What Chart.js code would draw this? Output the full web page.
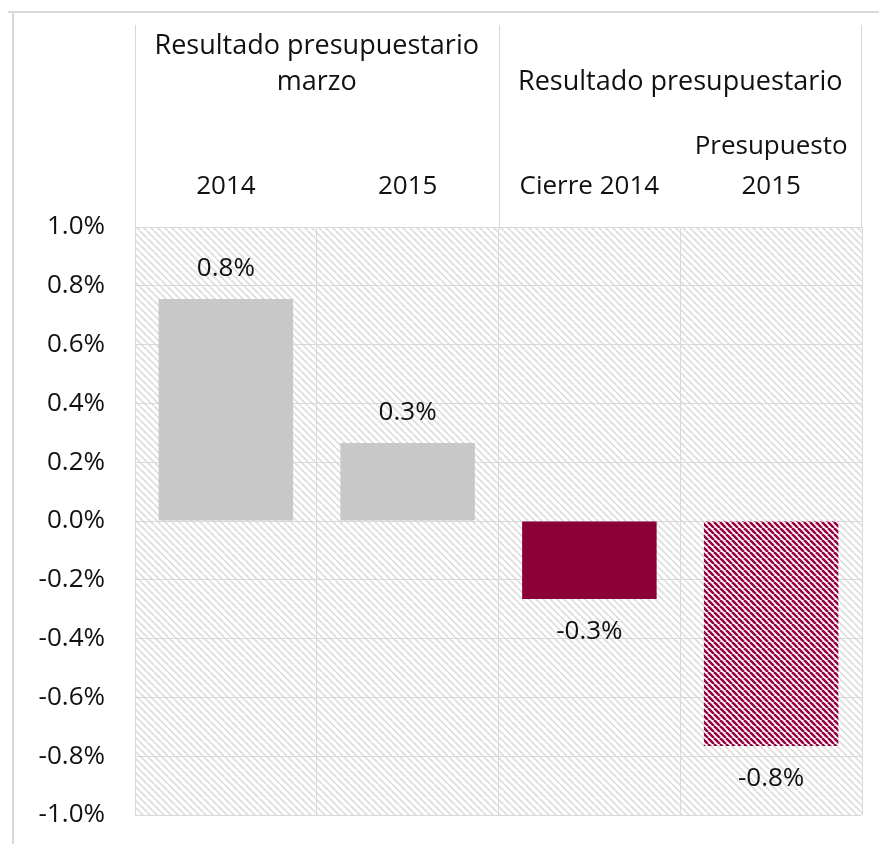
<!DOCTYPE html>
<html>
<head>
<meta charset="utf-8">
<script src="https://cdn.jsdelivr.net/npm/chart.js@4.4.1/dist/chart.umd.min.js"></script>
<style>
  html, body { margin: 0; padding: 0; background: #fff; }
  #wrap { width: 879px; height: 844px; position: relative; }
</style>
</head>
<body>
<div id="wrap"><canvas id="chart"></canvas></div>
<script>
// data
const categories = ['2014', '2015', 'Cierre 2014', ['Presupuesto', '2015']]
const groups = [
    { label: ['Resultado presupuestario', 'marzo'], from: 0, to: 1 },
    { label: ['Resultado presupuestario'], from: 2, to: 3 },
]
const values = [0.755, 0.265, -0.265, -0.765]
const yTicks = [-1.0, -0.8, -0.6, -0.4, -0.2, 0.0, 0.2, 0.4, 0.6, 0.8, 1.0]

const FONT = '"Open Sans", sans-serif'
const GRID = '#d9d9d9'

function hatch(bg, fg, size, width) {
    const c = document.createElement('canvas')
    c.width = size
    c.height = size
    const x = c.getContext('2d')
    x.fillStyle = bg
    x.fillRect(0, 0, size, size)
    x.strokeStyle = fg
    x.lineWidth = width
    for (let o = -size; o <= size; o += size) {
        x.beginPath()
        x.moveTo(o, 0)
        x.lineTo(o + size, size)
        x.stroke()
    }
    return x.createPattern(c, 'repeat')
}

const ctx0 = document.getElementById('chart').getContext('2d')
const bgHatch = hatch('#ffffff', '#dcdcdc', 7, 1.6)
const redHatch = hatch('#ffffff', '#98003f', 6, 2.6)
const barColors = ['#c8c8c8', '#c8c8c8', '#8a0037', redHatch]

const framePlugin = {
    id: 'frame',
    beforeDraw(chart) {
        const { ctx, chartArea: a } = chart
        ctx.save()
        ctx.fillStyle = bgHatch
        ctx.fillRect(a.left, a.top, a.right - a.left, a.bottom - a.top)
        ctx.strokeStyle = GRID
        ctx.lineWidth = 2
        ctx.beginPath()
        ctx.moveTo(8, 12); ctx.lineTo(879, 12)
        ctx.moveTo(13, 12); ctx.lineTo(13, 844)
        ctx.stroke()
        // header separators
        const xs = chart.scales.x
        const half = (xs.getPixelForValue(1) - xs.getPixelForValue(0)) / 2
        ctx.lineWidth = 1
        ctx.beginPath()
        ;[0, 2].forEach(i => {
            const px = Math.round(xs.getPixelForValue(i) - half) + 0.5
            ctx.moveTo(px, 25); ctx.lineTo(px, a.top)
        })
        const pr = Math.round(a.right) - 0.5
        ctx.moveTo(pr, 25); ctx.lineTo(pr, a.top)
        ctx.stroke()
        // group titles
        ctx.fillStyle = '#111'
        ctx.font = '27px ' + FONT
        ctx.textAlign = 'center'
        ctx.textBaseline = 'middle'
        groups.forEach(g => {
            const cx = (xs.getPixelForValue(g.from) + xs.getPixelForValue(g.to)) / 2
            const startY = g.label.length > 1 ? 46 : 82
            g.label.forEach((t, k) => ctx.fillText(t, cx, startY + k * 36))
        })
        ctx.restore()
    }
}

const labelPlugin = {
    id: 'valueLabels',
    afterDatasetsDraw(chart) {
        const { ctx } = chart
        const meta = chart.getDatasetMeta(0)
        ctx.save()
        ctx.fillStyle = '#111'
        ctx.font = '26px ' + FONT
        ctx.textAlign = 'center'
        ctx.textBaseline = 'middle'
        meta.data.forEach((bar, i) => {
            const v = values[i]
            const y = v >= 0 ? bar.y - 30 : bar.y + 33
            ctx.fillText(v.toFixed(1) + '%', bar.x, y)
        })
        ctx.restore()
    }
}

new Chart(ctx0, {
    type: 'bar',
    data: {
        labels: categories,
        datasets: [{
            data: values,
            backgroundColor: barColors,
            borderWidth: 0,
            categoryPercentage: 1,
            barPercentage: 0.74,
        }]
    },
    options: {
        responsive: true,
        maintainAspectRatio: false,
        animation: false,
        layout: { padding: { top: 0, left: 0, right: 17, bottom: 29 } },
        plugins: {
            legend: { display: false },
            tooltip: { enabled: false },
        },
        scales: {
            x: {
                position: 'top',
                grid: { color: GRID, drawTicks: false, offset: true },
                border: { color: GRID },
                ticks: {
                    color: '#111',
                    font: { family: FONT, size: 26, lineHeight: 1.54 },
                    padding: 20,
                    maxRotation: 0,
                    autoSkip: false,
                },
                afterFit: (s) => { s.height = 227 }
            },
            y: {
                min: -1,
                max: 1,
                afterBuildTicks: (s) => { s.ticks = yTicks.map(v => ({ value: v })) },
                grid: { color: GRID, drawTicks: false },
                border: { color: GRID },
                ticks: {
                    color: '#111',
                    font: { family: FONT, size: 26 },
                    padding: 30,
                    callback: (v) => (Math.abs(v) < 1e-9 ? 0 : v).toFixed(1) + '%',
                },
                afterFit: (s) => {
                    s.width = 135
                    s.paddingBottom = 0
                    s.paddingTop = 0
                }
            }
        }
    },
    plugins: [framePlugin, labelPlugin]
})
</script>
</body>
</html>
